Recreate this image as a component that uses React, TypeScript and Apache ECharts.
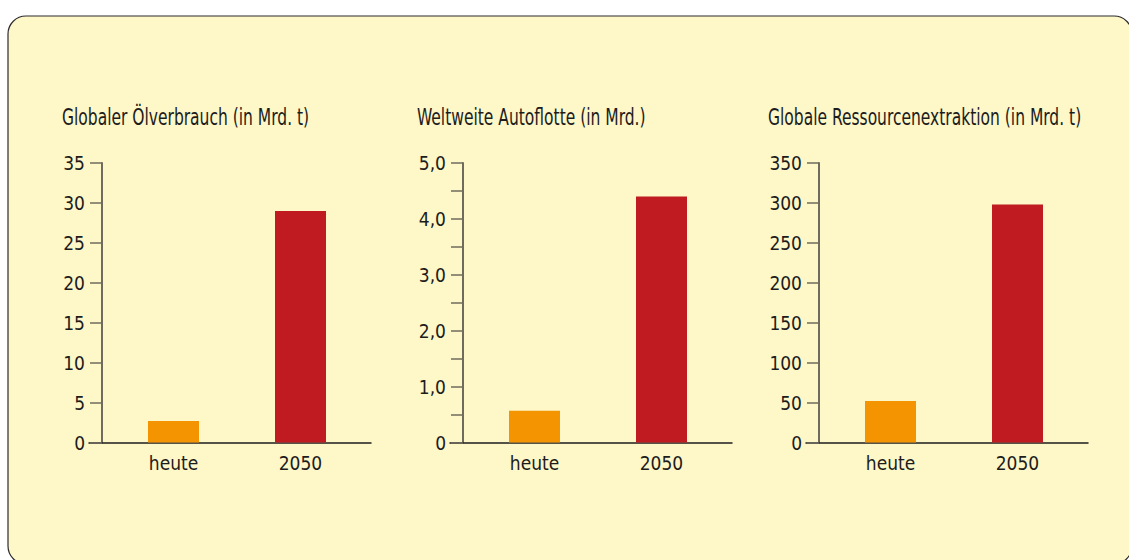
import React, { useEffect, useRef } from 'react';
import * as echarts from 'echarts';

const categories = ['heute', '2050'];
const titles = [
  'Globaler Ölverbrauch (in Mrd. t)',
  'Weltweite Autoflotte (in Mrd.)',
  'Globale Ressourcenextraktion (in Mrd. t)',
];
const oilValues = [2.7, 29];
const carValues = [0.57, 4.4];
const resourceValues = [52, 298];
const yMax = [35, 5, 350];
const yInterval = [5, 0.5, 50];
const barColors = ['#F39400', '#C01B20'];

const FONT = '"DejaVu Sans Condensed", "Liberation Sans Narrow", sans-serif';
const TEXT = '#1c1c1c';
const panelAxisX = [102, 463, 819];
const titleX = [62, 417, 768];

export default function App() {
  const ref = useRef<HTMLDivElement>(null);
  useEffect(() => {
    document.body.style.margin = '0';
    const chart = echarts.init(ref.current!, null, { renderer: 'svg' });
    const values = [oilValues, carValues, resourceValues];
    const grids: any[] = [];
    const xAxes: any[] = [];
    const yAxes: any[] = [];
    const series: any[] = [];
    const top = 163;
    const height = 279.5;
    values.forEach((vals, i) => {
      const ax = panelAxisX[i];
      grids.push({ left: ax + 8, top, width: 254, height });
      grids.push({ left: ax - 13, top, width: 282, height });
      xAxes.push({
        type: 'category',
        gridIndex: 2 * i,
        data: categories,
        axisLine: { show: false },
        axisTick: { show: false },
        axisLabel: { fontFamily: FONT, fontSize: 19, color: TEXT, margin: 11 },
      });
      xAxes.push({
        type: 'value',
        gridIndex: 2 * i + 1,
        min: 0,
        max: 1,
        axisLine: { show: true, lineStyle: { color: '#1e1e1e', width: 1.5 } },
        axisTick: { show: false },
        axisLabel: { show: false },
        splitLine: { show: false },
      });
      yAxes.push({
        type: 'value',
        gridIndex: 2 * i,
        min: 0,
        max: yMax[i],
        interval: yInterval[i],
        offset: 8,
        axisLine: { show: true, lineStyle: { color: '#6f6b5e', width: 2 } },
        axisTick: { show: true, inside: false, length: 12, lineStyle: { color: '#6f6b5e', width: 1.5 } },
        splitLine: { show: false },
        axisLabel: {
          fontFamily: FONT,
          fontSize: 19,
          color: TEXT,
          margin: 17,
          formatter: (v: number) => {
            if (i !== 1) return String(v);
            if (v === 0) return '0';
            if (Math.abs(v - Math.round(v)) < 1e-9) return v.toFixed(1).replace('.', ',');
            return '';
          },
        },
      });
      yAxes.push({ type: 'value', gridIndex: 2 * i + 1, show: false, min: 0, max: 1 });
      series.push({
        type: 'bar',
        xAxisIndex: 2 * i,
        yAxisIndex: 2 * i,
        barWidth: 51,
        data: vals.map((v, j) => ({ value: v, itemStyle: { color: barColors[j] } })),
      });
    });
    const titleEls = titles.map((t, i) => ({
      type: 'text',
      x: titleX[i],
      y: 117,
      scaleX: 0.75,
      z: 5,
      style: {
        text: t,
        fontFamily: FONT,
        fontSize: 23,
        fill: TEXT,
        textAlign: 'left',
        textVerticalAlign: 'middle',
        align: 'left',
        verticalAlign: 'middle',
      },
    }));
    chart.setOption({
      animation: false,
      graphic: {
        elements: [
          {
            type: 'rect',
            z: -10,
            silent: true,
            shape: { x: 8, y: 16, width: 1124, height: 548, r: 18 },
            style: { fill: '#FEF7C8', stroke: '#2b2b2b', lineWidth: 1.2 },
          },
          ...titleEls,
        ],
      },
      grid: grids,
      xAxis: xAxes,
      yAxis: yAxes,
      series,
    });
    return () => chart.dispose();
  }, []);
  return <div ref={ref} style={{ width: 1129, height: 560 }} />;
}
